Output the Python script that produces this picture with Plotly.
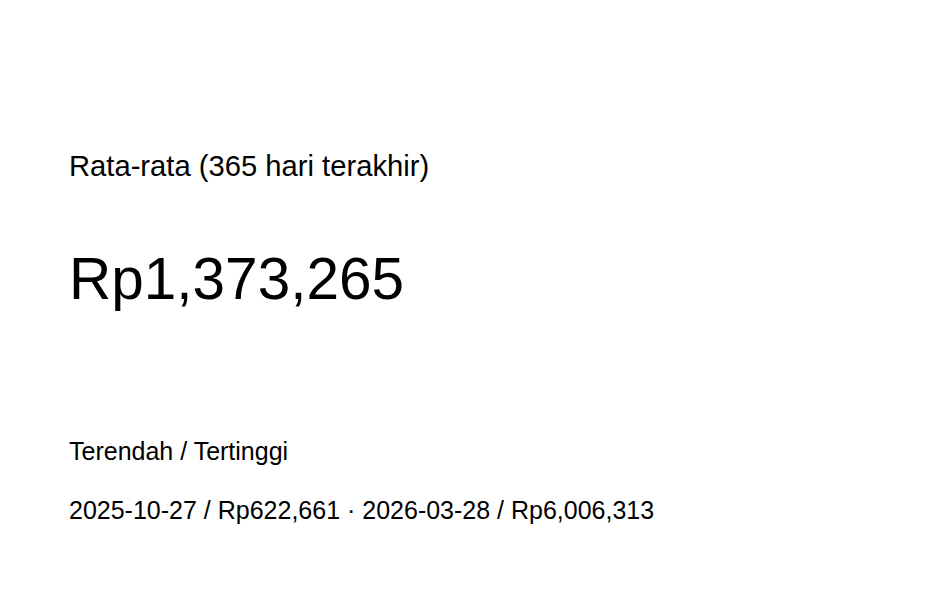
import plotly.graph_objects as go

# KPI ringkasan harga
judul_rata = "Rata-rata (365 hari terakhir)"
nilai_rata = 1373265
judul_rentang = "Terendah / Tertinggi"
tanggal_terendah = "2025-10-27"
nilai_terendah = 622661
tanggal_tertinggi = "2026-03-28"
nilai_tertinggi = 6006313


def rp(v):
    return f"Rp{v:,}"


baris = [
    (judul_rata, 158, 29.2),
    (rp(nilai_rata), 270, 58.5),
    (judul_rentang, 443, 25),
    (f"{tanggal_terendah} / {rp(nilai_terendah)} \u00b7 {tanggal_tertinggi} / {rp(nilai_tertinggi)}", 502, 25),
]

fig = go.Figure()

for teks, y, ukuran in baris:
    fig.add_annotation(
        x=59, y=y, xref="x", yref="y",
        text=teks, showarrow=False,
        xanchor="left", yanchor="middle",
        font=dict(family="Liberation Sans, Arial, sans-serif", size=ukuran, color="#000000"),
    )

fig.update_xaxes(range=[0, 942], visible=False)
fig.update_yaxes(range=[601, 0], visible=False)
fig.update_layout(
    width=942, height=601,
    margin=dict(l=0, r=0, t=0, b=0),
    paper_bgcolor="white", plot_bgcolor="white",
    showlegend=False,
)

fig.write_html("out.html")
